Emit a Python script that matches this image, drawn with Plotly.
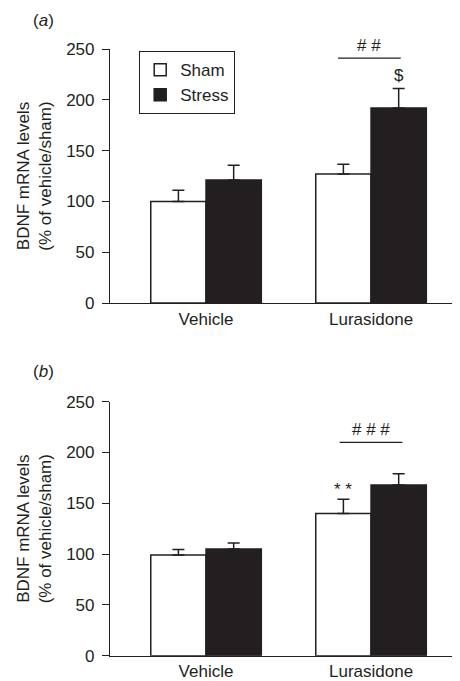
import plotly.graph_objects as go

# ---- data ----
categories = ["Vehicle", "Lurasidone"]
series_names = ["Sham", "Stress"]

a_sham = [100, 127]
a_sham_err = [11, 9.5]
a_stress = [121, 192]
a_stress_err = [14.5, 19]

b_sham = [99, 140]
b_sham_err = [5.5, 14]
b_stress = [105, 168]
b_stress_err = [6, 11]

y_ticks = [0, 50, 100, 150, 200, 250]
y_max = 250

# significance marks: (text, x position in category units, y value)
a_marks = [("# #", 0.99, 253), ("$", 1.17, 224)]
a_line = [0.80, 1.18, 241]
b_marks = [("* *", 0.83, 164), ("# # #", 1.0, 223)]
b_line = [0.81, 1.19, 210]

# ---- style ----
ink = "#231f20"
FONT = "Liberation Sans, Arial, sans-serif"
FS = 17
PAGE_W, PAGE_H = 460, 681
OFF = 8  # default body margin of the html page
W, H = PAGE_W - OFF, PAGE_H - OFF


def px_x(p):
    return (p - OFF) / W


def px_y(p):
    return 1 - (p - OFF) / H


fig = go.Figure()


def add_panel(sham, sham_err, stress, stress_err, xa, ya, legend):
    fig.add_trace(go.Bar(
        x=categories, y=sham, name=series_names[0],
        marker=dict(color="white", line=dict(color=ink, width=1.5)),
        error_y=dict(type="data", array=sham_err, arrayminus=[0] * len(sham),
                     symmetric=False, color=ink, thickness=1.5, width=6),
        xaxis=xa, yaxis=ya, showlegend=legend, legendgroup="sham"))
    fig.add_trace(go.Bar(
        x=categories, y=stress, name=series_names[1],
        marker=dict(color=ink, line=dict(color=ink, width=1.5)),
        error_y=dict(type="data", array=stress_err, arrayminus=[0] * len(stress),
                     symmetric=False, color=ink, thickness=1.5, width=6),
        xaxis=xa, yaxis=ya, showlegend=legend, legendgroup="stress"))


add_panel(a_sham, a_sham_err, a_stress, a_stress_err, "x", "y", True)
add_panel(b_sham, b_sham_err, b_stress, b_stress_err, "x2", "y2", False)

xdom = [px_x(110), min(1.0, px_x(458))]
dom_a = [px_y(303), px_y(49)]
dom_b = [px_y(655.7), px_y(401.7)]

xaxis_common = dict(
    range=[-0.582, 1.527], showline=True, linecolor=ink, linewidth=1.2,
    ticks="", showgrid=False, zeroline=False, type="category",
    tickfont=dict(family=FONT, size=FS, color=ink), ticklabelstandoff=0,
    domain=xdom, fixedrange=True, automargin=False)
yaxis_common = dict(
    range=[0, y_max], tickvals=y_ticks, showline=True, linecolor=ink, linewidth=1.2,
    ticks="outside", ticklen=7, tickwidth=1.2, tickcolor=ink,
    showgrid=False, zeroline=False, automargin=False,
    tickfont=dict(family=FONT, size=FS, color=ink), ticklabelstandoff=4,
    title=dict(text="BDNF mRNA levels<br>(% of vehicle/sham)",
               font=dict(family=FONT, size=FS, color=ink), standoff=10))

fig.update_layout(
    width=W, height=H,
    margin=dict(l=0, r=0, t=0, b=0, autoexpand=False),
    paper_bgcolor="white", plot_bgcolor="white",
    barmode="group", bargap=0.33, bargroupgap=0,
    font=dict(family=FONT, size=FS, color=ink),
    xaxis=dict(anchor="y", **xaxis_common),
    xaxis2=dict(anchor="y2", **xaxis_common),
    yaxis=dict(anchor="x", domain=dom_a, **yaxis_common),
    yaxis2=dict(anchor="x2", domain=dom_b, **yaxis_common),
    legend=dict(x=px_x(139), y=px_y(51), xanchor="left", yanchor="top",
                bordercolor=ink, borderwidth=1.2, bgcolor="white",
                font=dict(family=FONT, size=FS, color=ink),
                tracegroupgap=4, traceorder="normal"),
)

ann_font = dict(family=FONT, size=FS, color=ink)
annotations = [
    dict(text="(<i>a</i>)", x=px_x(43), y=px_y(20), xref="paper", yref="paper",
         xanchor="center", yanchor="middle", showarrow=False, font=ann_font),
    dict(text="(<i>b</i>)", x=px_x(43), y=px_y(371), xref="paper", yref="paper",
         xanchor="center", yanchor="middle", showarrow=False, font=ann_font),
]
for t, xv, yv in a_marks:
    annotations.append(dict(text=t, x=xv, y=yv / y_max, xref="x", yref="y domain",
                            xanchor="center", yanchor="middle",
                            showarrow=False, font=ann_font))
for t, xv, yv in b_marks:
    annotations.append(dict(text=t, x=xv, y=yv / y_max, xref="x2", yref="y2 domain",
                            xanchor="center", yanchor="middle",
                            showarrow=False, font=ann_font))
fig.update_layout(annotations=annotations)

fig.add_shape(type="line", x0=a_line[0], x1=a_line[1], y0=a_line[2], y1=a_line[2],
              xref="x", yref="y", line=dict(color=ink, width=1.2))
fig.add_shape(type="line", x0=b_line[0], x1=b_line[1], y0=b_line[2], y1=b_line[2],
              xref="x2", yref="y2", line=dict(color=ink, width=1.2))

fig.write_html("out.html")
